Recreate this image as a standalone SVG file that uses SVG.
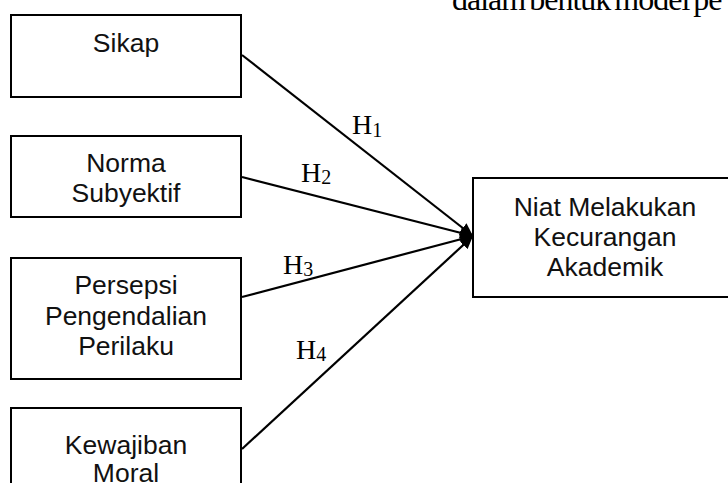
<svg xmlns="http://www.w3.org/2000/svg" width="728" height="483" viewBox="0 0 728 483">
  <style>
    .box { fill: #ffffff; stroke: #000000; stroke-width: 2; }
    .lbl { font-family: "Liberation Sans", Arial, sans-serif; font-size: 26.5px; fill: #111111; text-anchor: middle; }
    .conn { stroke: #000000; stroke-width: 2.2; fill: none; marker-end: url(#arrow); }
    .h { font-family: "Liberation Serif", "DejaVu Serif", serif; font-size: 28px; fill: #000000; }
    .sub { font-size: 20px; }
    .doc { font-family: "Liberation Serif", "DejaVu Serif", serif; font-size: 32px; fill: #000000; letter-spacing: -1px; word-spacing: -3px; }
  </style>
  <defs>
    <marker id="arrow" markerUnits="userSpaceOnUse" markerWidth="14" markerHeight="12" refX="13" refY="6" orient="auto">
      <path d="M0,0 L13,6 L0,12 z" fill="#000000"/>
    </marker>
  </defs>
  <rect x="0" y="0" width="728" height="483" fill="#ffffff"/>

  <text class="doc" x="452" y="10">dalam bentuk model pe</text>

  <g id="sikap">
    <rect class="box" x="11" y="15" width="230" height="82"/>
    <text class="lbl" x="126" y="52">Sikap</text>
  </g>
  <g id="norma">
    <rect class="box" x="11" y="136" width="230" height="81"/>
    <text class="lbl" x="126" y="172">Norma</text>
    <text class="lbl" x="126" y="202">Subyektif</text>
  </g>
  <g id="persepsi">
    <rect class="box" x="11" y="258" width="230" height="121"/>
    <text class="lbl" x="126" y="294">Persepsi</text>
    <text class="lbl" x="126" y="325">Pengendalian</text>
    <text class="lbl" x="126" y="355">Perilaku</text>
  </g>
  <g id="kewajiban">
    <rect class="box" x="11" y="408" width="230" height="100"/>
    <text class="lbl" x="126" y="454">Kewajiban</text>
    <text class="lbl" x="126" y="482">Moral</text>
  </g>
  <g id="niat">
    <rect class="box" x="473" y="178" width="270" height="119"/>
    <text class="lbl" x="605" y="216">Niat Melakukan</text>
    <text class="lbl" x="605" y="246">Kecurangan</text>
    <text class="lbl" x="605" y="276">Akademik</text>
  </g>

  <g id="connectors">
    <line class="conn" x1="242" y1="55" x2="473" y2="236"/>
    <line class="conn" x1="242" y1="177" x2="473" y2="236"/>
    <line class="conn" x1="242" y1="297" x2="473" y2="236"/>
    <line class="conn" x1="242" y1="449" x2="473" y2="236"/>
    <text class="h" x="352" y="134">H<tspan class="sub" dy="3">1</tspan></text>
    <text class="h" x="301" y="182">H<tspan class="sub" dy="2">2</tspan></text>
    <text class="h" x="283" y="274">H<tspan class="sub" dy="2">3</tspan></text>
    <text class="h" x="296" y="359">H<tspan class="sub" dy="2">4</tspan></text>
  </g>
</svg>
